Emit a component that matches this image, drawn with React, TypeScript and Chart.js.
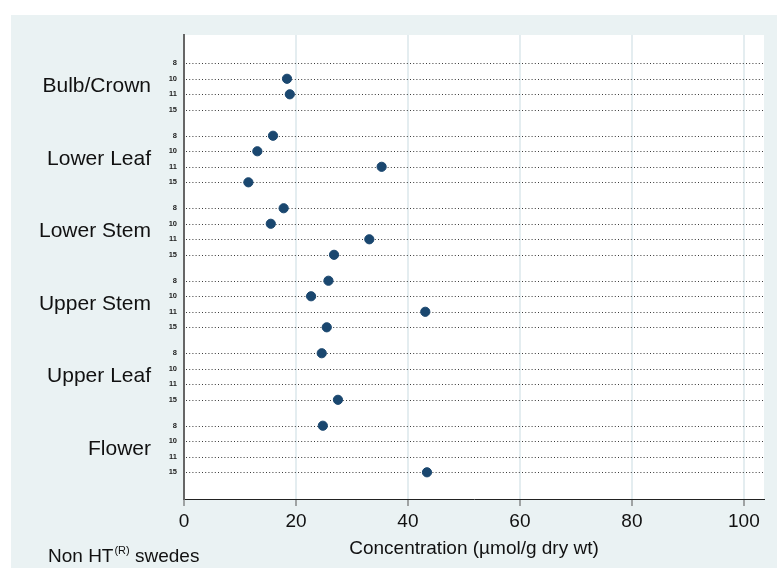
import { useEffect, useRef } from 'react';
import { Chart, registerables } from 'chart.js';

Chart.register(...registerables);

// ---- data ----
const groups = ['Bulb/Crown', 'Lower Leaf', 'Lower Stem', 'Upper Stem', 'Upper Leaf', 'Flower'];
const rowLabels = ['8', '10', '11', '15'];
const bulbCrown = [null, 18.4, 18.9, null];
const lowerLeaf = [15.9, 13.1, 35.3, 11.5];
const lowerStem = [17.8, 15.5, 33.1, 26.8];
const upperStem = [25.8, 22.7, 43.1, 25.5];
const upperLeaf = [24.6, null, null, 27.5];
const flower = [24.8, null, null, 43.4];
const seriesByGroup: (number | null)[][] = [bulbCrown, lowerLeaf, lowerStem, upperStem, upperLeaf, flower];
const xTicks = [0, 20, 40, 60, 80, 100];
const xMax = 103.6;
const xTitle = 'Concentration (\u00b5mol/g dry wt)';

// ---- layout helpers ----
const GROUP_STEP = 4.67;
const rowPos = (g: number, r: number) => g * GROUP_STEP + r;
const yMin = -1.82;
const yMax = (groups.length - 1) * GROUP_STEP + 3 + 1.72;
const FONT = "'Liberation Sans', Arial, Helvetica, sans-serif";

const rowPositions: number[] = [];
groups.forEach((_, g) => rowLabels.forEach((__, r) => rowPositions.push(rowPos(g, r))));

const points: { x: number; y: number }[] = [];
seriesByGroup.forEach((vals, g) =>
  vals.forEach((v, r) => {
    if (v !== null) points.push({ x: v, y: rowPos(g, r) });
  })
);

const panelPlugin = {
  id: 'panel',
  beforeDraw(chart: any) {
    const { ctx, width, height, chartArea } = chart;
    ctx.save();
    ctx.fillStyle = '#ffffff';
    ctx.fillRect(0, 0, width, height);
    ctx.fillStyle = '#eaf2f3';
    ctx.fillRect(11, 15, width - 11, height - 15);
    ctx.fillStyle = '#ffffff';
    ctx.fillRect(chartArea.left, chartArea.top, chartArea.right - chartArea.left, chartArea.bottom - chartArea.top);
    ctx.restore();
  },
  beforeDatasetsDraw(chart: any) {
    const { ctx, chartArea } = chart;
    const ys = chart.scales.yRow;
    ctx.save();
    ctx.strokeStyle = '#3a3a3a';
    ctx.lineWidth = 1;
    ctx.setLineDash([1, 2.2]);
    rowPositions.forEach((p) => {
      const y = Math.round(ys.getPixelForValue(p)) + 0.5;
      ctx.beginPath();
      ctx.moveTo(chartArea.left + 2, y);
      ctx.lineTo(chartArea.right, y);
      ctx.stroke();
    });
    ctx.restore();
  },
  afterDraw(chart: any) {
    const { ctx } = chart;
    ctx.save();
    ctx.fillStyle = '#111';
    ctx.textBaseline = 'alphabetic';
    ctx.textAlign = 'left';
    let x = 48;
    const base = 562;
    ctx.font = `19px ${FONT}`;
    ctx.fillText('Non HT', x, base);
    x += ctx.measureText('Non HT').width + 1;
    ctx.font = `11px ${FONT}`;
    ctx.fillText('(R)', x, base - 8);
    x += ctx.measureText('(R)').width;
    ctx.font = `19px ${FONT}`;
    ctx.fillText(' swedes', x, base);
    ctx.restore();
  },
};

export default function App() {
  const ref = useRef<HTMLCanvasElement | null>(null);
  useEffect(() => {
    if (!ref.current) return;
    const chart = new Chart(ref.current, {
      type: 'scatter',
      data: {
        datasets: [
          {
            data: points,
            xAxisID: 'x',
            yAxisID: 'yRow',
            backgroundColor: '#1a476f',
            borderColor: '#1a476f',
            borderWidth: 1,
            pointRadius: 4.6,
            pointHoverRadius: 4.6,
          },
        ],
      },
      options: {
        animation: false,
        responsive: false,
        devicePixelRatio: 1,
        layout: { padding: { left: 0, top: 35, right: 13, bottom: 0 } },
        plugins: { legend: { display: false }, tooltip: { enabled: false }, title: { display: false } },
        scales: {
          x: {
            type: 'linear',
            position: 'bottom',
            min: 0,
            max: xMax,
            afterBuildTicks: (s: any) => {
              s.ticks = xTicks.map((v) => ({ value: v }));
            },
            afterFit: (s: any) => {
              s.height = 69;
            },
            grid: { color: '#e4edf0', lineWidth: 2, drawTicks: true, tickLength: 7, tickColor: '#555', tickWidth: 1 },
            border: { color: '#222', width: 1 },
            ticks: { font: { family: FONT, size: 19 }, color: '#111', padding: 4, maxRotation: 0, autoSkip: false },
            title: { display: true, text: xTitle, font: { family: FONT, size: 19 }, color: '#111', padding: { top: 0, bottom: 8 } },
          },
          yRow: {
            type: 'linear',
            position: 'left',
            reverse: true,
            min: yMin,
            max: yMax,
            weight: 0,
            afterBuildTicks: (s: any) => {
              s.ticks = rowPositions.map((v) => ({ value: v }));
            },
            afterFit: (s: any) => {
              s.width = 26;
            },
            grid: { display: false, drawTicks: false },
            border: { display: true, color: '#666', width: 2 },
            ticks: {
              autoSkip: false,
              font: { family: FONT, size: 7.5, weight: 'bold' },
              color: '#222',
              padding: 7,
              callback: (_v: any, i: number) => rowLabels[i % rowLabels.length],
            },
          },
          yGroup: {
            type: 'linear',
            position: 'left',
            reverse: true,
            min: yMin,
            max: yMax,
            weight: 1,
            afterBuildTicks: (s: any) => {
              s.ticks = groups.map((_, g) => ({ value: rowPos(g, 1.5) }));
            },
            afterFit: (s: any) => {
              s.width = 158;
            },
            grid: { display: false, drawTicks: false },
            border: { display: false },
            ticks: {
              autoSkip: false,
              font: { family: FONT, size: 21 },
              color: '#111',
              padding: 7,
              callback: (_v: any, i: number) => groups[i],
            },
          },
        },
      } as any,
      plugins: [panelPlugin],
    });
    return () => chart.destroy();
  }, []);
  return (
    <div style={{ position: 'absolute', left: 0, top: 0, width: 777, height: 568 }}>
      <canvas ref={ref} width={777} height={568} style={{ width: 777, height: 568, display: 'block' }} />
    </div>
  );
}
